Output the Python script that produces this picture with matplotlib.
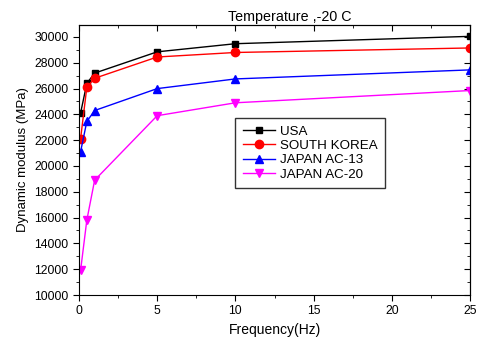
import numpy as np
import matplotlib
matplotlib.use('Agg')
import matplotlib.pyplot as plt
from matplotlib.ticker import MultipleLocator

plt.rcParams['font.family'] = ['Liberation Sans', 'DejaVu Sans']

freq = [0.1, 0.5, 1, 5, 10, 25]
usa = [24100, 26400, 27200, 28850, 29480, 30050]
south_korea = [22100, 26100, 26800, 28450, 28800, 29150]
japan_ac13 = [21100, 23450, 24300, 26000, 26750, 27450]
japan_ac20 = [11900, 15800, 18900, 23900, 24900, 25850]

fig = plt.figure(figsize=(4.78, 3.41), dpi=100)
ax = fig.add_axes([79/478, 1-295/341, 391/478, 270/341])

ax.plot(freq, usa, color='black', marker='s', ms=5, lw=1, label='USA')
ax.plot(freq, south_korea, color='red', marker='o', ms=6, lw=1, label='SOUTH KOREA')
ax.plot(freq, japan_ac13, color='blue', marker='^', ms=6, lw=1, label='JAPAN AC-13')
ax.plot(freq, japan_ac20, color='magenta', marker='v', ms=6, lw=1, label='JAPAN AC-20')

ax.set_xlim(0, 25)
ax.set_ylim(10000, 30930)
ax.xaxis.set_major_locator(MultipleLocator(5))
ax.xaxis.set_minor_locator(MultipleLocator(2.5))
ax.yaxis.set_major_locator(MultipleLocator(2000))
ax.yaxis.set_minor_locator(MultipleLocator(1000))
ax.tick_params(which='both', direction='out', labelsize=8.8, top=False, right=False)
ax.tick_params(which='major', length=4)
ax.tick_params(which='minor', length=2)

# inward ticks on top and right
sec = ax.secondary_xaxis('top')
sec.xaxis.set_major_locator(MultipleLocator(5))
sec.xaxis.set_minor_locator(MultipleLocator(2.5))
sec.tick_params(which='both', direction='in', labeltop=False)
sec.tick_params(which='major', length=4)
sec.tick_params(which='minor', length=2)
secy = ax.secondary_yaxis('right')
secy.yaxis.set_major_locator(MultipleLocator(2000))
secy.yaxis.set_minor_locator(MultipleLocator(1000))
secy.tick_params(which='both', direction='in', labelright=False)
secy.tick_params(which='major', length=4)
secy.tick_params(which='minor', length=2)

ax.set_xlabel('Frequency(Hz)', fontsize=10)
ax.set_ylabel('Dynamic modulus (MPa)', fontsize=9.5)
fig.text(290/478, 1-17/341, 'Temperature ,-20 C', ha='center', va='center', fontsize=10.3)

leg = ax.legend(loc='upper left', bbox_to_anchor=(0.40, 0.656), fontsize=9.6,
                frameon=True, fancybox=False, edgecolor='black', handlelength=2.4,
                handletextpad=0.4, borderpad=0.55, labelspacing=0.15, borderaxespad=0)
leg.get_frame().set_linewidth(1)

fig.savefig('out.png', dpi=100)
